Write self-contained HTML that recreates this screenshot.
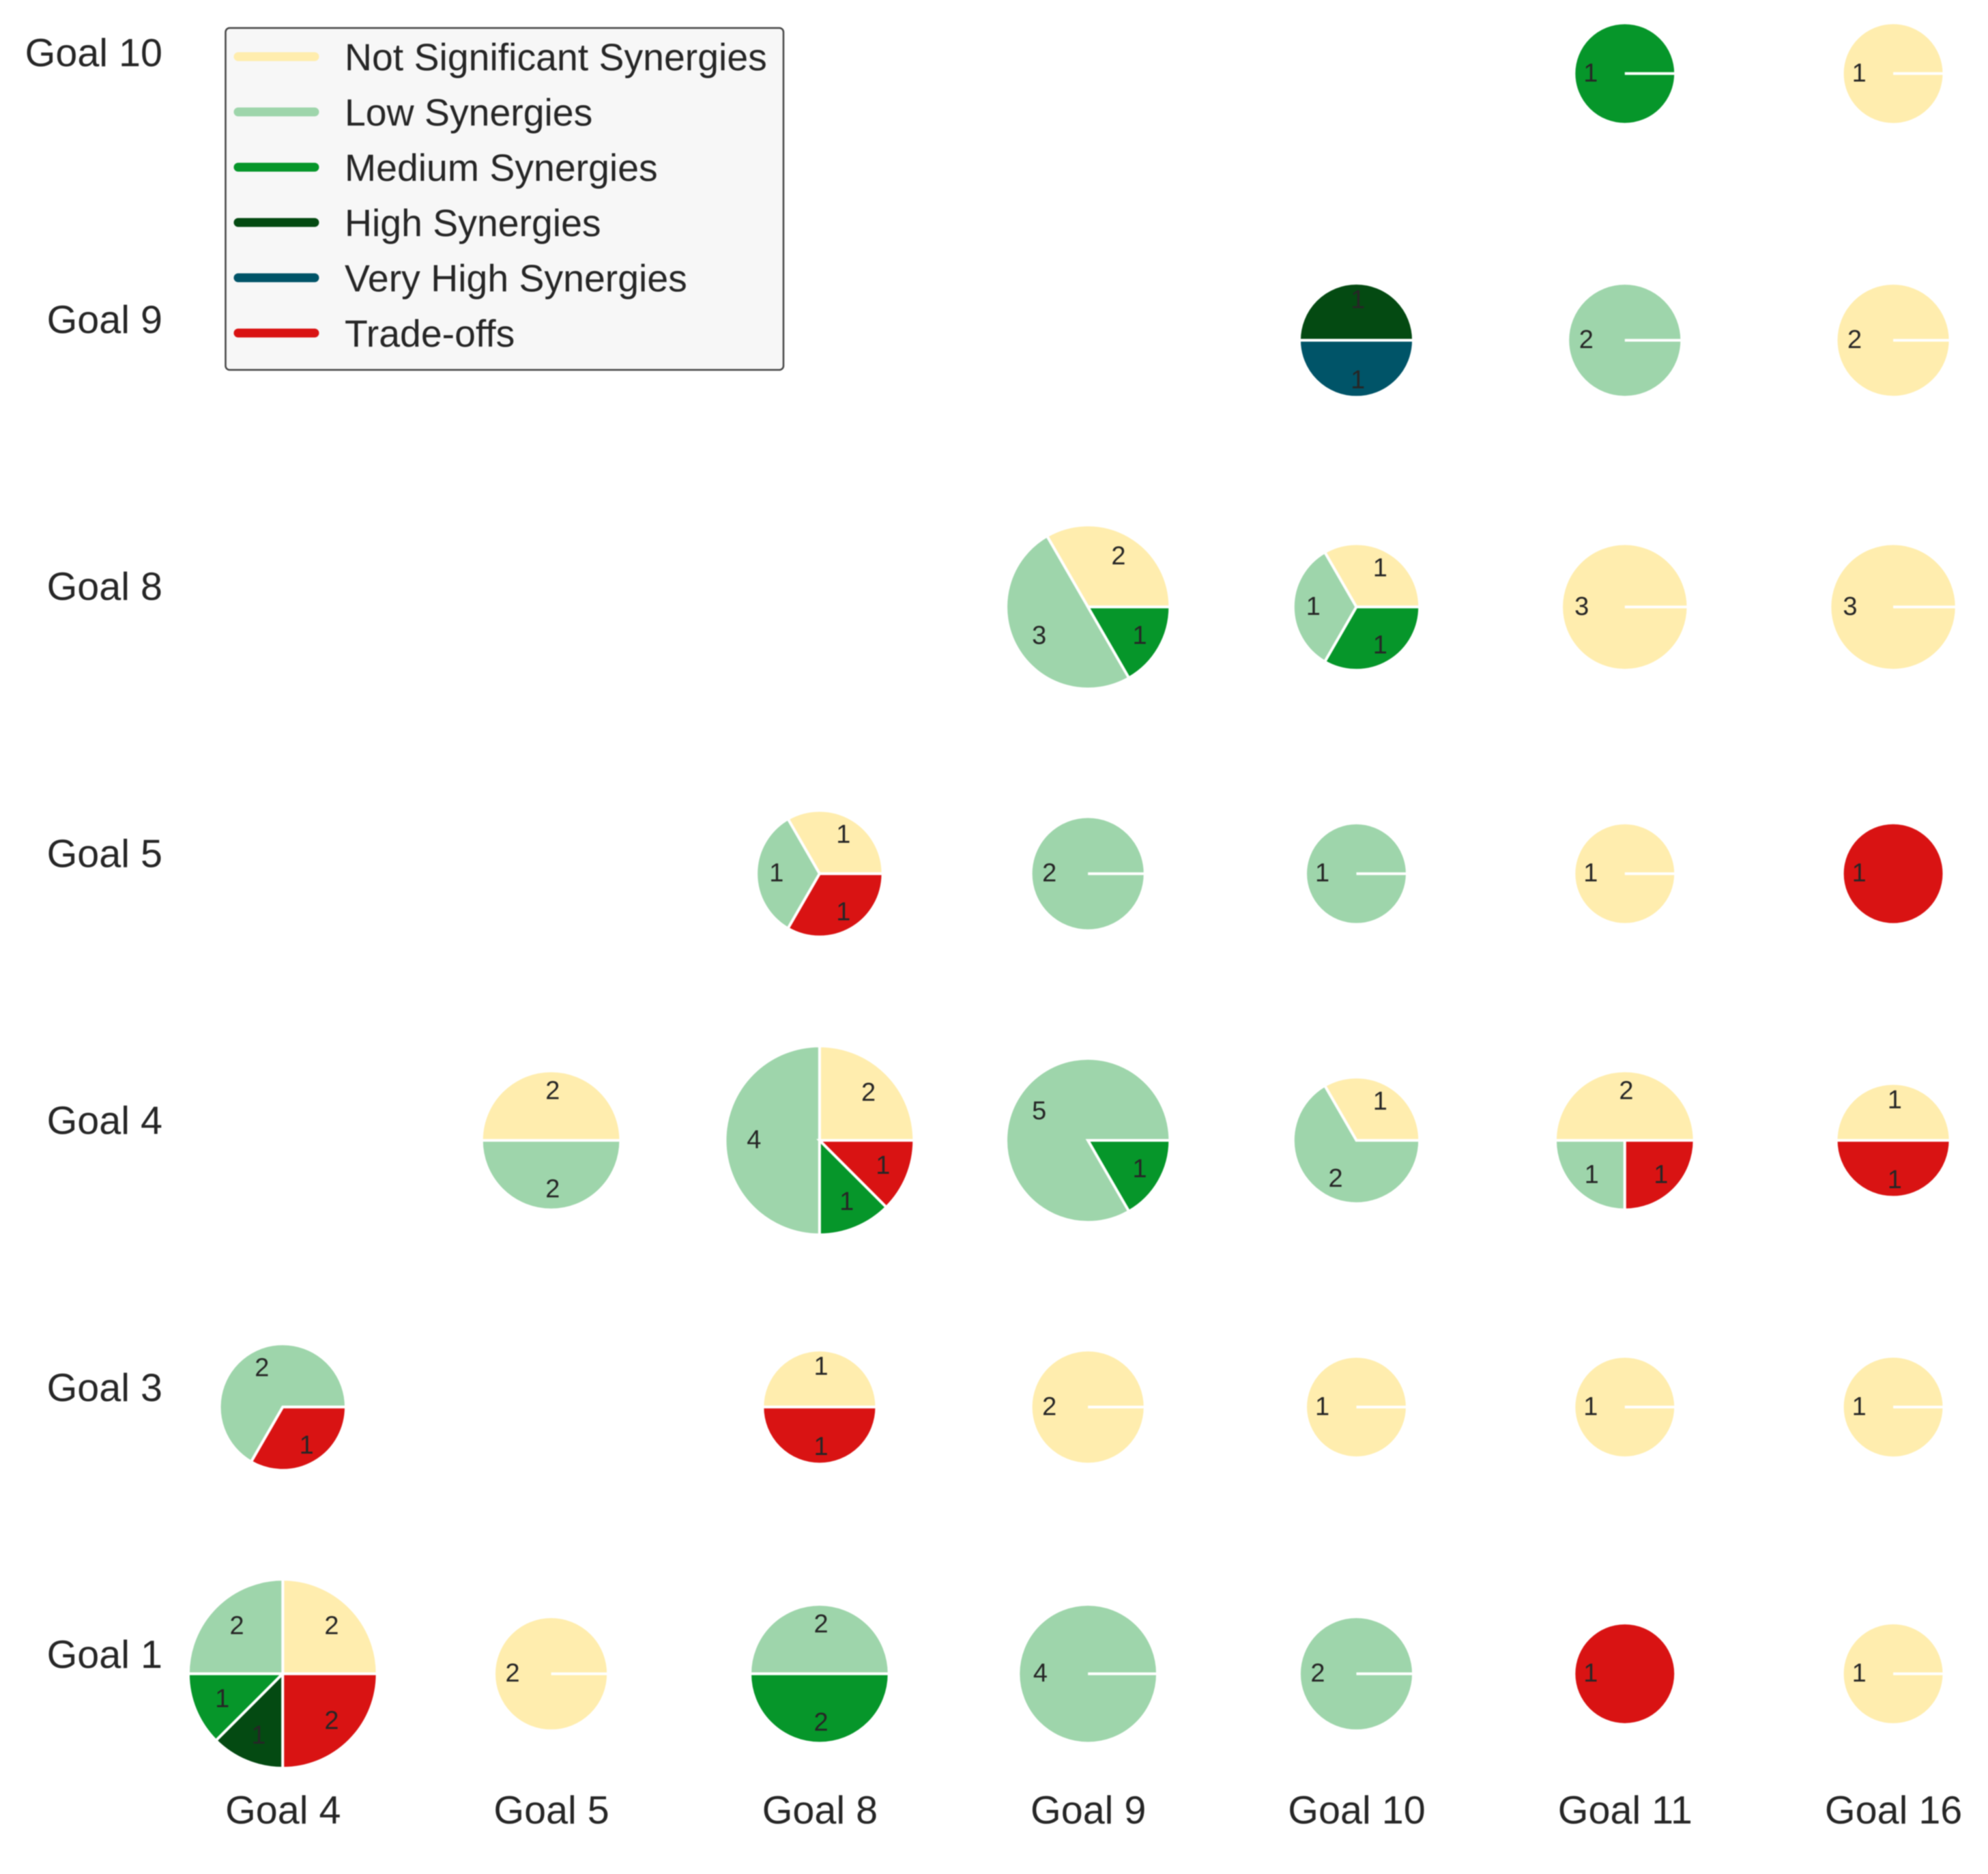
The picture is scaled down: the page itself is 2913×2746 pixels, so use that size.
<!DOCTYPE html>
<html lang="en">
<head>
<meta charset="utf-8">
<title>Goal synergies and trade-offs pie matrix</title>
<style>
  html, body { margin: 0; padding: 0; background: #ffffff; }
  svg { display: block; filter: blur(0.7px); }
  text { font-family: "Liberation Sans", Arial, sans-serif; fill: #262626; }
</style>
</head>
<body>
<svg id="chart" xmlns="http://www.w3.org/2000/svg" width="2913" height="2746" viewBox="0 0 2913 2746">
  <rect x="0" y="0" width="2913" height="2746" fill="#ffffff"></rect>
</svg>
<script>
const xCategories = ['Goal 4', 'Goal 5', 'Goal 8', 'Goal 9', 'Goal 10', 'Goal 11', 'Goal 16'];
const yCategories = ['Goal 1', 'Goal 3', 'Goal 4', 'Goal 5', 'Goal 8', 'Goal 9', 'Goal 10'];
const seriesNames = ['Not Significant Synergies', 'Low Synergies', 'Medium Synergies', 'High Synergies', 'Very High Synergies', 'Trade-offs'];
const seriesColors = ['#ffedae', '#9ed5ab', '#06962a', '#044a12', '#005468', '#d91313'];

// Each series: one row per yCategories entry, one value per xCategories entry.
const notSignificant = [
  [2, 2, 0, 0, 0, 0, 1],
  [0, 0, 1, 2, 1, 1, 1],
  [0, 2, 2, 0, 1, 2, 1],
  [0, 0, 1, 0, 0, 1, 0],
  [0, 0, 0, 2, 1, 3, 3],
  [0, 0, 0, 0, 0, 0, 2],
  [0, 0, 0, 0, 0, 0, 1]
];
const lowSynergies = [
  [2, 0, 2, 4, 2, 0, 0],
  [2, 0, 0, 0, 0, 0, 0],
  [0, 2, 4, 5, 2, 1, 0],
  [0, 0, 1, 2, 1, 0, 0],
  [0, 0, 0, 3, 1, 0, 0],
  [0, 0, 0, 0, 0, 2, 0],
  [0, 0, 0, 0, 0, 0, 0]
];
const mediumSynergies = [
  [1, 0, 2, 0, 0, 0, 0],
  [0, 0, 0, 0, 0, 0, 0],
  [0, 0, 1, 1, 0, 0, 0],
  [0, 0, 0, 0, 0, 0, 0],
  [0, 0, 0, 1, 1, 0, 0],
  [0, 0, 0, 0, 0, 0, 0],
  [0, 0, 0, 0, 0, 1, 0]
];
const highSynergies = [
  [1, 0, 0, 0, 0, 0, 0],
  [0, 0, 0, 0, 0, 0, 0],
  [0, 0, 0, 0, 0, 0, 0],
  [0, 0, 0, 0, 0, 0, 0],
  [0, 0, 0, 0, 0, 0, 0],
  [0, 0, 0, 0, 1, 0, 0],
  [0, 0, 0, 0, 0, 0, 0]
];
const veryHighSynergies = [
  [0, 0, 0, 0, 0, 0, 0],
  [0, 0, 0, 0, 0, 0, 0],
  [0, 0, 0, 0, 0, 0, 0],
  [0, 0, 0, 0, 0, 0, 0],
  [0, 0, 0, 0, 0, 0, 0],
  [0, 0, 0, 0, 1, 0, 0],
  [0, 0, 0, 0, 0, 0, 0]
];
const tradeOffs = [
  [2, 0, 0, 0, 0, 1, 0],
  [1, 0, 1, 0, 0, 0, 0],
  [0, 0, 1, 0, 0, 1, 1],
  [0, 0, 1, 0, 0, 0, 1],
  [0, 0, 0, 0, 0, 0, 0],
  [0, 0, 0, 0, 0, 0, 0],
  [0, 0, 0, 0, 0, 0, 0]
];
const allSeries = [notSignificant, lowSynergies, mediumSynergies, highSynergies, veryHighSynergies, tradeOffs];

const NS = 'http://www.w3.org/2000/svg';
const svg = document.getElementById('chart');
const edgeWidth = 4;
const labelDistance = 0.72;
const tradeOffIndex = seriesNames.length - 1;

function xScale(col) { return 414.3 + col * 393.3; }
function yScale(row) { return 2452.6 - row * 390.8; }
function yLabelBaseline(row) { return 2444 - row * 391.2; }
function visibleRadius(total) { return 63.3 + 9.14 * total; }
function radiusScale(total) { return visibleRadius(total) + edgeWidth / 2; }

function make(tag, attrs, parent) {
  const el = document.createElementNS(NS, tag);
  for (const key in attrs) el.setAttribute(key, attrs[key]);
  parent.appendChild(el);
  return el;
}

function wedgePath(cx, cy, r, a0, a1) {
  const pt = a => [cx + r * Math.cos(a), cy - r * Math.sin(a)];
  const p0 = pt(a0);
  const p1 = pt(a1);
  if (a1 - a0 >= 2 * Math.PI - 1e-6) {
    const mid = pt(a0 + Math.PI);
    return `M${cx} ${cy}L${p0[0]} ${p0[1]}A${r} ${r} 0 0 0 ${mid[0]} ${mid[1]}A${r} ${r} 0 0 0 ${p0[0]} ${p0[1]}Z`;
  }
  const large = a1 - a0 > Math.PI ? 1 : 0;
  return `M${cx} ${cy}L${p0[0]} ${p0[1]}A${r} ${r} 0 ${large} 0 ${p1[0]} ${p1[1]}Z`;
}

// Axis tick labels
xCategories.forEach((name, col) => {
  const label = make('text', { x: xScale(col) + 0.5, y: 2672, 'text-anchor': 'middle', 'font-size': 57.5 }, svg);
  
  
  label.textContent = name;
});
yCategories.forEach((name, row) => {
  const label = make('text', { x: 238, y: yLabelBaseline(row), 'text-anchor': 'end', 'font-size': 57.5 }, svg);
  
  
  label.textContent = name;
});

// Pies
yCategories.forEach((yName, row) => {
  xCategories.forEach((xName, col) => {
    const values = allSeries.map(series => series[row][col]);
    const total = values.reduce((a, b) => a + b, 0);
    if (total === 0) return;
    const cx = xScale(col);
    const cy = yScale(row);
    const group = make('g', {}, svg);
    
    
    let start = 0;
    const labels = [];
    values.forEach((value, s) => {
      if (value === 0) return;
      const sweep = value / total * 2 * Math.PI;
      const fullTradeOff = s === tradeOffIndex && value === total;
      const wedge = make('path', {
        d: wedgePath(cx, cy, fullTradeOff ? visibleRadius(total) : radiusScale(total), start, start + sweep),
        fill: seriesColors[s],
        stroke: fullTradeOff ? 'none' : '#ffffff',
        'stroke-width': edgeWidth,
        'stroke-linejoin': 'miter'
      }, group);
      
      
      const mid = start + sweep / 2;
      labels.push({ value, x: cx + labelDistance * visibleRadius(total) * Math.cos(mid), y: cy - labelDistance * visibleRadius(total) * Math.sin(mid) });
      start += sweep;
    });
    labels.forEach(item => {
      const text = make('text', { x: item.x + 2.2, y: item.y + 11.5, 'text-anchor': 'middle', 'font-size': 38 }, group);
      
      
      text.textContent = item.value;
    });
  });
});

// Legend
const legend = make('g', {}, svg);


const legendFrame = make('rect', { x: 330.5, y: 41, width: 817.5, height: 501, rx: 6, ry: 6, fill: '#f7f7f7', stroke: '#444444', 'stroke-width': 2.5 }, legend);


seriesNames.forEach((name, i) => {
  const lineY = 83 + i * 81;
  const entry = make('g', {}, legend);
  
  
  const swatch = make('line', { x1: 349, x2: 461, y1: lineY, y2: lineY, stroke: seriesColors[i], 'stroke-width': 13, 'stroke-linecap': 'round' }, entry);
  
  
  const label = make('text', { x: 505, y: lineY + 20, 'font-size': 55.4 }, entry);
  
  
  label.textContent = name;
});
</script>
</body>
</html>
